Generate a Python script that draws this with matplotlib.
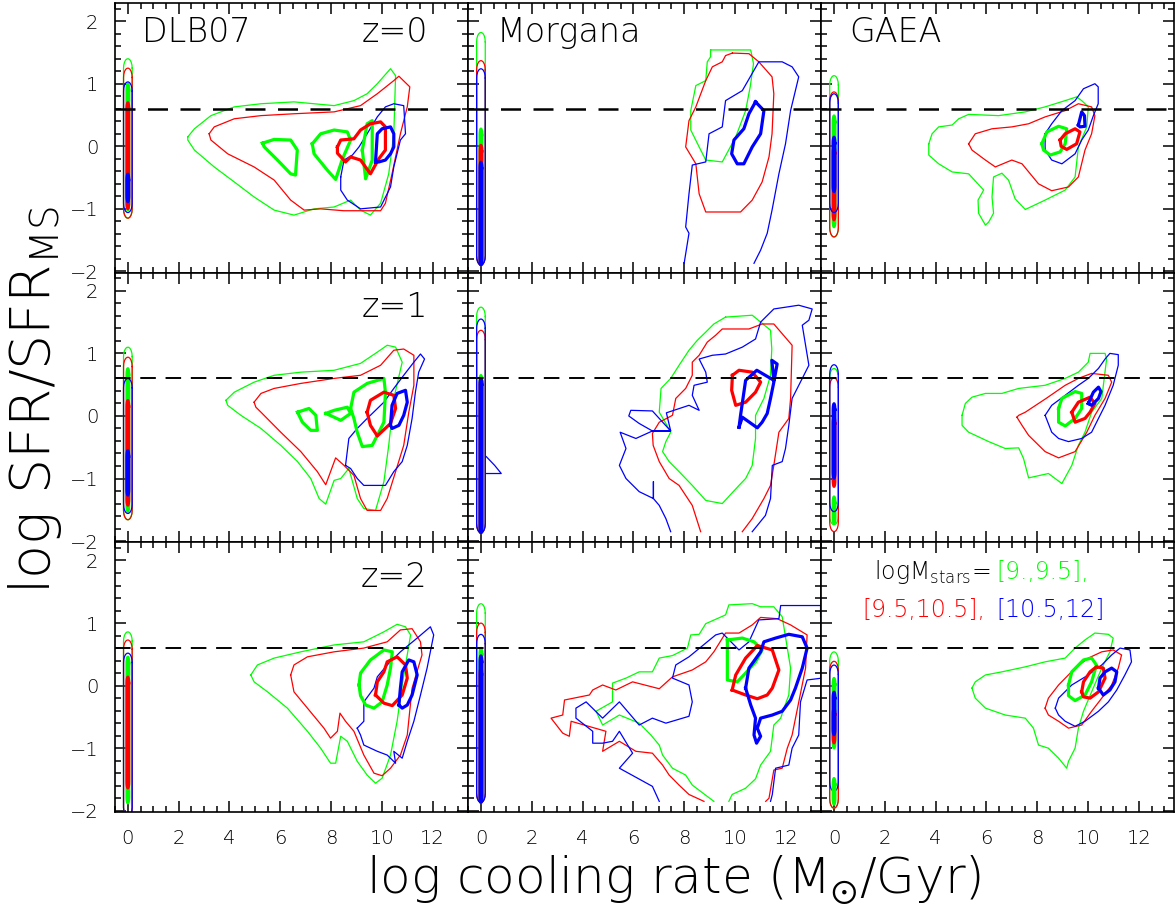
import numpy as np
import matplotlib
matplotlib.use('Agg')
import matplotlib.pyplot as plt
from matplotlib.ticker import MultipleLocator

plt.rcParams['font.family'] = ['DejaVu Sans']
plt.rcParams['font.weight'] = 'light'
plt.rcParams['mathtext.fontset'] = 'dejavusans'

GREEN = '#00ff00'
RED = '#ff0000'
BLUE = '#0000ff'
cols = [GREEN, RED, BLUE]

models = ['DLB07', 'Morgana', 'GAEA']
redshifts = ['z=0', 'z=1', 'z=2']
ms_line = 0.6

# vertical strips at log cooling rate = 0, order green/red/blue
thin_top = [[[1.40, 1.25, 1.03], [1.82, 1.37, 1.24], [1.13, 0.87, 0.84]],
            [[1.10, 0.94, 0.60], [1.74, 1.37, 1.55], [0.76, 0.61, 0.82]],
            [[0.86, 0.73, 0.52], [1.31, 1.00, 0.82], [0.54, 0.39, 0.33]]]
thin_bot = [[[-1.15, -1.15, -1.06], [-1.90, -1.90, -1.90], [-1.45, -1.45, -1.06]],
            [[-1.66, -1.66, -1.56], [-1.87, -1.87, -1.87], [-1.74, -1.85, -1.53]],
            [[-2.10, -2.10, -2.10], [-1.87, -1.87, -1.87], [-1.96, -1.96, -1.69]]]
thick_top = [[[1.00, 0.70, -0.44], [0.28, 0.02, -0.25], [0.49, -0.01, 0.15]],
             [[0.76, 0.25, -0.55], [0.65, 0.60, 0.60], [-1.29, -0.02, 0.20]],
             [[0.46, 0.14, None], [0.60, 0.28, 0.48], [0.12, -0.36, -0.10]]]
thick_bot = [[[-1.02, -1.00, -0.89], [-1.90, -1.90, -1.90], [-1.29, -1.18, -0.73]],
             [[-1.53, -1.43, -1.27], [-1.87, -1.87, -1.87], [-1.72, -1.13, -1.00]],
             [[-1.88, -1.64, None], [-1.87, -1.87, -1.87], [-1.00, -0.92, -0.79]]]
extra_strip = [(2, 2, 0, -1.48, -1.90)]

# ---- DLB07 z=0
dlb0_g = [(2.36, 0.15), (2.62, 0.28), (3.27, 0.49), (4.19, 0.63), (5.24, 0.68), (6.54, 0.71),
          (8.12, 0.65), (8.9, 0.73), (9.42, 0.84), (9.82, 1.0), (10.34, 1.24), (10.54, 1.13),
          (10.47, 0.2), (10.27, -0.44), (9.95, -0.91), (9.55, -1.1), (9.16, -1.02), (8.77, -0.86),
          (8.12, -0.97), (7.33, -1.0), (6.54, -1.1), (5.76, -1.02), (4.97, -0.81), (4.19, -0.57),
          (3.4, -0.33), (2.62, -0.06), (2.36, 0.1)]
dlb0_r = [(3.2, 0.2), (3.4, 0.31), (4.19, 0.44), (5.24, 0.49), (6.54, 0.52), (8.12, 0.55),
          (9.16, 0.65), (9.82, 0.84), (10.47, 1.05), (10.67, 1.12), (11.1, 0.95), (11.0, 0.63),
          (10.73, 0.2), (10.4, -0.44), (10.14, -0.91), (9.95, -1.03), (8.5, -1.03), (7.59, -1.0),
          (6.94, -1.02), (6.41, -0.86), (5.76, -0.54), (4.97, -0.33), (3.93, -0.12), (3.27, 0.1)]
dlb0_b = [(8.38, -0.49), (8.51, -0.22), (8.84, -0.14), (9.1, -0.01), (9.42, 0.2), (9.82, 0.47),
          (10.14, 0.63), (10.47, 0.68), (10.86, 0.65), (10.93, 0.2), (10.73, 0.1), (10.47, -0.33),
          (10.34, -0.65), (9.95, -0.97), (9.16, -1.0), (8.64, -0.86), (8.38, -0.7)]
dlb0_g_in1 = [(5.3, 0.05), (5.76, 0.11), (6.41, 0.1), (6.67, -0.06), (6.6, -0.46), (6.41, -0.44),
              (5.89, -0.22), (5.37, -0.01)]
dlb0_g_in2 = [(7.26, 0.04), (7.59, 0.2), (8.12, 0.26), (8.64, 0.23), (8.77, 0.1), (8.45, -0.2),
              (8.18, -0.53), (7.85, -0.38), (7.33, -0.12)]
dlb0_g_in3 = [(9.23, -0.06), (9.42, 0.36), (9.62, 0.41), (9.62, -0.22), (9.36, -0.52)]
dlb0_r_in = [(8.25, -0.01), (8.38, 0.1), (8.9, 0.12), (9.16, 0.26), (9.55, 0.36), (9.95, 0.39),
             (10.14, 0.31), (10.14, -0.06), (9.88, -0.2), (9.55, -0.44), (9.16, -0.22),
             (8.77, -0.17), (8.57, -0.25), (8.25, -0.11)]
dlb0_b_in = [(9.75, -0.25), (9.82, 0.2), (10.01, 0.28), (10.34, 0.31), (10.47, 0.2), (10.47, -0.01),
             (10.34, -0.12), (10.14, -0.22), (9.88, -0.25)]

# ---- Morgana z=0
mor0_g = [(9.04, 1.54), (10.62, 1.54), (10.73, 1.32), (10.6, 0.95), (10.42, 0.57), (10.03, 0.15),
          (9.5, -0.25), (8.85, -0.22), (8.59, -0.01), (8.26, 0.26), (8.26, 0.57), (8.46, 0.97),
          (8.85, 1.05), (8.91, 1.35), (9.04, 1.43)]
mor0_r = [(9.9, 1.49), (10.55, 1.48), (10.94, 1.35), (11.46, 1.11), (11.53, 0.84), (11.46, 0.2),
          (11.34, -0.17), (11.07, -0.57), (10.68, -0.86), (10.22, -1.05), (8.85, -1.05),
          (8.59, -0.76), (8.46, -0.28), (8.06, -0.01), (8.19, 0.41), (8.46, 0.63), (8.85, 1.05),
          (9.11, 1.27), (9.5, 1.35), (9.63, 1.45)]
mor0_b = [(8.0, -1.87), (8.19, -1.39), (8.06, -1.29), (8.19, -0.76), (8.32, -0.3), (8.85, -0.25),
          (8.98, 0.2), (9.5, 0.31), (9.63, 0.73), (10.29, 0.89), (10.94, 1.35), (11.86, 1.35),
          (12.25, 1.27), (12.51, 1.11), (12.19, 0.57), (11.99, 0.04), (11.73, -0.44),
          (11.46, -1.02), (11.27, -1.39), (11.01, -1.66), (10.75, -1.87)]
mor0_b_in = [(10.81, 0.71), (11.14, 0.57), (11.01, 0.2), (10.68, -0.01), (10.35, -0.28),
             (10.09, -0.28), (9.87, -0.12), (9.96, 0.1), (10.35, 0.28), (10.55, 0.52)]

# ---- GAEA z=0
gae0_g = [(3.73, 0.04), (3.86, 0.2), (4.12, 0.31), (4.65, 0.34), (4.91, 0.44), (5.3, 0.51),
          (6.48, 0.49), (7.53, 0.55), (8.31, 0.63), (9.1, 0.73), (9.55, 0.79), (9.75, 0.73),
          (10.01, 0.63), (9.95, 0.31), (9.62, -0.01), (9.49, -0.49), (9.1, -0.7), (8.31, -0.86),
          (7.53, -1.01), (7.13, -0.84), (6.87, -0.54), (6.61, -0.43), (6.28, -0.49), (6.22, -0.81),
          (6.28, -1.07), (6.09, -1.21), (5.96, -1.26), (5.69, -1.07), (5.67, -0.86), (5.89, -0.7),
          (5.3, -0.44), (4.65, -0.41), (4.12, -0.28), (3.73, -0.14)]
gae0_r = [(5.3, 0.04), (5.56, 0.2), (6.22, 0.28), (7.0, 0.31), (7.66, 0.36), (8.31, 0.47),
          (9.1, 0.57), (9.62, 0.68), (10.14, 0.63), (10.27, 0.49), (10.14, 0.2), (9.88, -0.06),
          (9.62, -0.49), (9.23, -0.65), (8.57, -0.71), (8.05, -0.6), (7.4, -0.28), (7.0, -0.22),
          (6.35, -0.33), (5.96, -0.22), (5.43, -0.06)]
gae0_b = [(8.31, 0.2), (8.57, 0.36), (8.97, 0.57), (9.49, 0.73), (9.82, 0.92), (10.27, 1.0),
          (10.4, 0.95), (10.4, 0.68), (10.21, 0.49), (10.01, 0.26), (9.75, 0.1), (9.49, -0.12),
          (8.97, -0.28), (8.57, -0.22), (8.31, -0.06)]
gae0_g_in = [(8.18, 0.04), (8.38, 0.23), (8.84, 0.32), (9.16, 0.28), (9.1, 0.04), (8.9, -0.09),
             (8.51, -0.14), (8.25, -0.06)]
gae0_r_in = [(8.9, 0.1), (9.1, 0.2), (9.49, 0.28), (9.68, 0.23), (9.55, 0.04), (9.16, -0.05),
             (8.94, 0.0)]
gae0_b_in = [(9.62, 0.34), (9.75, 0.55), (9.86, 0.49), (9.88, 0.32), (9.68, 0.31)]

# ---- DLB07 z=1
dlb1_g = [(3.86, 0.25), (4.19, 0.38), (4.97, 0.54), (5.76, 0.65), (6.81, 0.7), (8.12, 0.73),
          (9.16, 0.84), (9.82, 1.02), (10.21, 1.13), (10.54, 1.1), (10.8, 0.86), (10.47, 0.28),
          (10.27, -0.47), (10.08, -1.05), (9.75, -1.51), (9.29, -1.48), (9.03, -1.32),
          (8.7, -0.84), (8.38, -1.0), (8.12, -1.03), (7.79, -1.41), (7.53, -1.32), (7.2, -1.0),
          (6.68, -0.73), (6.02, -0.47), (5.24, -0.2), (4.45, 0.01), (3.93, 0.17)]
dlb1_r = [(4.97, 0.22), (5.24, 0.36), (5.76, 0.44), (6.81, 0.52), (8.12, 0.6), (9.16, 0.65),
          (9.95, 0.81), (10.47, 1.05), (10.86, 1.07), (11.26, 0.97), (11.26, 0.49), (11.06, 0.06),
          (10.86, -0.47), (10.54, -0.89), (10.21, -1.32), (9.95, -1.51), (9.42, -1.51),
          (9.16, -1.32), (8.9, -0.95), (8.51, -0.79), (8.18, -0.67), (7.98, -0.89), (7.79, -1.1),
          (7.46, -0.89), (6.81, -0.57), (6.02, -0.26), (5.24, 0.06), (5.04, 0.14)]
dlb1_b = [(8.57, -0.79), (8.7, -0.36), (9.03, -0.2), (9.42, -0.04), (10.08, 0.22), (10.47, 0.44),
          (10.86, 0.65), (11.26, 0.86), (11.52, 0.99), (11.68, 0.91), (11.45, 0.7), (11.32, 0.38),
          (11.19, -0.04), (11.0, -0.47), (10.8, -0.73), (10.47, -0.89), (10.14, -1.11),
          (9.69, -1.11), (9.29, -1.11), (9.03, -1.0), (8.77, -0.84)]
dlb1_g_in1 = [(6.68, 0.06), (7.13, 0.12), (7.4, 0.01), (7.46, -0.23), (7.2, -0.23), (6.87, -0.1)]
dlb1_g_in2 = [(7.79, 0.04), (8.12, 0.09), (8.64, 0.14), (8.77, 0.04), (8.38, -0.07), (8.12, -0.02)]
dlb1_g_in3 = [(8.77, 0.12), (8.9, 0.38), (9.42, 0.52), (10.08, 0.6), (10.14, 0.38), (10.08, -0.1),
              (9.82, -0.31), (9.62, -0.47), (9.23, -0.49), (9.03, -0.26), (8.9, -0.04)]
dlb1_r_in = [(9.42, 0.06), (9.55, 0.25), (10.08, 0.38), (10.47, 0.33), (10.54, 0.12),
             (10.34, -0.12), (9.82, -0.32), (9.55, -0.15)]
dlb1_b_in = [(10.34, -0.15), (10.4, 0.17), (10.6, 0.36), (10.93, 0.41), (11.0, 0.22),
             (10.86, 0.01), (10.67, -0.15), (10.4, -0.2)]

# ---- Morgana z=1
mor1_g = [(9.63, 1.58), (10.68, 1.61), (11.01, 1.5), (11.4, 1.37), (11.45, 1.07), (11.4, 0.65),
          (11.14, 0.28), (10.81, 0.01), (10.81, -0.36), (10.68, -0.79), (10.42, -1.0),
          (10.16, -1.11), (9.5, -1.4), (8.85, -1.35), (8.32, -1.11), (7.8, -0.89), (7.41, -0.73),
          (7.15, -0.57), (7.28, -0.41), (7.47, -0.26), (7.28, -0.12), (7.02, 0.06), (7.09, 0.44),
          (7.47, 0.6), (7.8, 0.81), (8.19, 1.05), (8.52, 1.21), (8.85, 1.34), (9.17, 1.47)]
mor1_r = [(8.65, -1.85), (8.32, -1.43), (7.8, -1.11), (7.41, -1.0), (7.02, -0.73), (6.78, -0.47),
          (6.75, -0.28), (7.02, -0.1), (7.54, 0.01), (7.67, 0.28), (8.06, 0.44), (8.32, 0.65),
          (8.32, 0.86), (8.59, 0.97), (8.91, 1.18), (9.24, 1.29), (9.5, 1.39), (10.55, 1.39),
          (11.07, 1.47), (11.53, 1.47), (12.25, 1.13), (12.19, 0.28), (12.12, -0.04),
          (11.73, -0.26), (11.53, -0.79), (11.4, -1.11), (11.14, -1.32), (10.68, -1.64),
          (10.29, -1.85)]
mor1_b = [(7.47, -1.85), (7.28, -1.64), (7.02, -1.43), (6.79, -1.32), (6.79, -1.05), (6.79, -1.32),
          (6.23, -1.21), (5.71, -1.0), (5.45, -0.79), (5.71, -0.52), (5.48, -0.26), (6.1, -0.36),
          (6.75, -0.24), (7.47, -0.24), (6.75, 0.08), (5.9, 0.09), (5.82, 0.0), (6.23, -0.12),
          (6.75, -0.24), (7.47, -0.24), (7.3, 0.05), (8.19, 0.17), (8.59, 0.09), (8.32, 0.33),
          (8.39, 0.49), (8.91, 0.54), (8.85, 0.7), (8.59, 0.91), (9.11, 0.97), (9.63, 0.99),
          (10.29, 1.1), (10.81, 1.23), (11.01, 1.5), (11.53, 1.71), (12.51, 1.77), (13.04, 1.71),
          (12.91, 1.53), (12.65, 1.45), (12.91, 0.81), (12.65, 0.6), (12.25, 0.28), (12.12, -0.15),
          (11.99, -0.52), (11.86, -0.73), (11.47, -0.79), (11.4, -1.32), (11.2, -1.59),
          (10.68, -1.85)]
mor1_b_spike = [(0.21, -0.65), (0.54, -0.79), (0.8, -0.92), (0.21, -0.92)]
mor1_r_in = [(9.9, 0.65), (10.16, 0.73), (10.68, 0.7), (11.01, 0.54), (10.81, 0.38), (10.42, 0.22),
             (10.03, 0.17), (9.87, 0.41)]
mor1_b_in = [(10.16, -0.18), (10.22, 0.01), (10.42, 0.57), (10.86, 0.73), (11.53, 0.57),
             (11.45, 0.89), (11.66, 0.83), (11.53, 0.54), (11.4, 0.28), (11.27, 0.04),
             (11.07, -0.1), (10.88, -0.19), (10.29, -0.02)]

# ---- GAEA z=1
gae1_g = [(5.04, 0.01), (5.17, 0.2), (5.43, 0.3), (5.96, 0.36), (6.61, 0.36), (7.27, 0.44),
          (8.31, 0.49), (9.1, 0.6), (9.62, 0.7), (10.01, 0.86), (10.08, 1.0), (10.67, 1.0),
          (10.73, 0.91), (10.54, 0.28), (10.14, 0.06), (9.88, -0.26), (9.62, -0.47), (9.36, -0.79),
          (8.97, -1.08), (8.44, -0.92), (7.66, -0.99), (7.46, -0.68), (7.27, -0.51), (6.74, -0.52),
          (6.09, -0.41), (5.3, -0.26), (5.04, -0.15)]
gae1_r = [(7.2, -0.02), (7.27, 0.01), (7.53, 0.06), (8.35, 0.28), (9.1, 0.49), (9.62, 0.6),
          (10.14, 0.68), (10.8, 0.65), (10.93, 0.54), (10.67, 0.28), (10.27, 0.01), (9.95, -0.26),
          (9.49, -0.57), (8.84, -0.67), (8.31, -0.57), (7.66, -0.31), (7.4, -0.15)]
gae1_b = [(8.31, 0.01), (8.57, 0.17), (9.1, 0.33), (9.62, 0.49), (10.01, 0.6), (10.41, 0.76),
          (10.67, 0.91), (10.86, 1.0), (11.19, 0.98), (11.19, 0.81), (10.99, 0.49), (10.67, 0.17),
          (10.41, -0.04), (10.14, -0.26), (9.75, -0.36), (9.23, -0.41), (8.84, -0.36), (8.57, -0.26)]
gae1_g_in = [(8.84, 0.12), (8.97, 0.28), (9.49, 0.39), (9.75, 0.36), (9.75, 0.12), (9.49, -0.04),
             (9.1, -0.16), (8.84, -0.1)]
gae1_r_in = [(9.36, 0.06), (9.62, 0.22), (10.08, 0.3), (10.27, 0.2), (10.08, 0.06), (9.88, -0.04),
             (9.49, -0.1)]
gae1_b_in = [(10.01, 0.2), (10.21, 0.38), (10.41, 0.46), (10.51, 0.39), (10.41, 0.28), (10.14, 0.17)]

# ---- DLB07 z=2
dlb2_g = [(4.84, 0.17), (5.1, 0.33), (5.76, 0.44), (6.81, 0.54), (8.12, 0.65), (9.29, 0.7),
          (10.08, 0.86), (10.6, 0.98), (10.93, 0.94), (11.13, 0.81), (10.8, 0.01), (10.6, -0.57),
          (10.34, -1.11), (10.01, -1.48), (9.75, -1.56), (9.42, -1.43), (9.03, -1.21),
          (8.64, -0.89), (8.38, -0.81), (8.18, -1.24), (7.98, -1.24), (7.59, -1.0), (7.07, -0.73),
          (6.28, -0.36), (5.5, -0.1), (4.97, 0.06)]
dlb2_r = [(6.41, 0.17), (6.54, 0.33), (7.07, 0.46), (8.12, 0.54), (9.29, 0.6), (10.21, 0.7),
          (10.73, 0.89), (11.19, 0.91), (11.52, 0.7), (11.58, 0.49), (11.19, -0.04), (11.0, -0.79),
          (10.73, -1.11), (10.34, -1.32), (10.01, -1.44), (9.69, -1.4), (9.29, -1.11),
          (8.9, -0.73), (8.57, -0.57), (8.35, -0.44), (8.25, -0.73), (7.98, -0.84), (7.72, -0.68),
          (7.07, -0.36), (6.54, -0.1)]
dlb2_b = [(9.03, -0.68), (9.29, -0.57), (9.29, -0.26), (9.69, -0.04), (9.82, 0.14), (10.21, 0.33),
          (10.73, 0.54), (11.39, 0.76), (11.91, 0.94), (12.04, 0.81), (11.78, 0.28), (11.52, -0.15),
          (11.26, -0.57), (11.0, -0.89), (10.8, -1.16), (10.47, -1.05), (10.54, -1.24),
          (10.21, -1.11), (9.82, -1.05), (9.29, -0.95), (9.16, -0.79)]
dlb2_g_in = [(9.1, 0.01), (9.16, 0.2), (9.55, 0.41), (10.08, 0.57), (10.41, 0.54), (10.34, 0.28),
             (10.21, 0.01), (10.01, -0.26), (9.69, -0.36), (9.36, -0.31), (9.16, -0.16)]
dlb2_r_in = [(9.75, -0.15), (9.82, 0.06), (10.08, 0.22), (10.21, 0.38), (10.6, 0.46), (10.93, 0.33),
             (11.0, 0.12), (10.8, -0.15), (10.41, -0.32), (10.08, -0.28)]
dlb2_b_in = [(10.67, -0.31), (10.73, -0.04), (10.8, 0.22), (11.06, 0.41), (11.26, 0.38),
             (11.39, 0.17), (11.19, -0.15), (11.0, -0.31), (10.8, -0.36)]

# ---- Morgana z=2
mor2_g = [(9.17, -1.85), (8.32, -1.59), (8.06, -1.43), (7.54, -1.32), (7.15, -1.11), (7.02, -0.95),
          (6.69, -0.79), (6.23, -0.6), (5.45, -0.47), (4.79, -0.63), (4.53, -0.41), (5.18, -0.26),
          (5.18, 0.04), (5.71, 0.12), (6.23, 0.22), (6.75, 0.22), (7.02, 0.44), (7.54, 0.48),
          (8.13, 0.6), (8.26, 0.81), (8.59, 0.82), (8.85, 0.99), (9.63, 1.13), (9.76, 1.29),
          (10.68, 1.31), (11.01, 1.26), (11.53, 1.26), (11.86, 1.1), (12.19, 0.28), (12.12, -0.15),
          (11.93, -0.36), (11.8, -0.52), (11.53, -0.63), (11.4, -1.05), (11.01, -1.27),
          (10.81, -1.49), (10.42, -1.64), (9.89, -1.74), (9.76, -1.85)]
mor2_r = [(8.78, -1.85), (8.19, -1.74), (7.8, -1.59), (7.41, -1.43), (7.15, -1.27), (6.75, -1.08),
          (6.1, -1.05), (5.45, -0.89), (4.79, -1.05), (4.92, -0.73), (3.55, -0.57), (3.48, -0.81),
          (3.22, -0.76), (2.76, -0.52), (3.22, -0.47), (3.29, -0.23), (4.27, -0.15), (4.4, -0.07),
          (4.79, 0.01), (5.31, -0.07), (5.97, 0.06), (7.02, -0.05), (7.54, 0.14), (8.32, 0.25),
          (8.85, 0.38), (9.17, 0.54), (9.63, 0.84), (10.16, 0.84), (10.68, 0.97), (11.01, 1.09),
          (11.66, 1.07), (12.19, 0.97), (12.84, 0.81), (12.78, 0.28), (12.25, -0.79),
          (12.06, -1.0), (11.86, -1.32), (11.53, -1.35), (11.34, -1.8), (11.21, -1.85)]
mor2_b = [(7.02, -1.85), (6.75, -1.61), (5.45, -1.32), (5.97, -1.08), (5.45, -0.73), (5.18, -0.89),
          (4.79, -0.92), (4.4, -0.92), (4.4, -0.73), (3.74, -0.52), (3.74, -0.36), (4.14, -0.26),
          (4.79, -0.52), (5.45, -0.26), (6.23, -0.63), (6.75, -0.52), (7.28, -0.6), (8.19, -0.49),
          (8.32, -0.26), (8.19, 0.01), (7.54, 0.12), (7.67, 0.33), (8.19, 0.46), (9.24, 0.81),
          (9.5, 0.84), (10.16, 0.57), (10.55, 0.7), (10.94, 1.05), (11.73, 1.07), (11.8, 1.28),
          (13.37, 1.28), (13.37, 1.1), (13.6, 1.1)]
mor2_b_low = [(13.6, 0.12), (13.43, 0.12), (12.84, 0.09), (12.58, -0.26), (12.51, -0.79),
              (12.25, -1.0), (12.12, -1.27), (11.6, -1.32), (11.47, -1.74), (11.4, -1.85)]
mor2_g_in = [(9.7, 0.73), (10.29, 0.76), (10.75, 0.7), (11.07, 0.57), (10.81, 0.38), (10.42, 0.2),
             (10.09, 0.06), (9.7, 0.09), (9.7, 0.35)]
mor2_r_in = [(9.89, -0.07), (10.03, 0.17), (10.42, 0.44), (10.88, 0.64), (11.47, 0.57),
             (11.73, 0.25), (11.47, -0.04), (11.27, -0.15), (10.88, -0.21), (10.42, -0.15)]
mor2_b_in = [(10.42, -0.04), (10.55, 0.28), (11.01, 0.54), (11.14, 0.7), (11.6, 0.76),
             (12.12, 0.82), (12.65, 0.78), (12.84, 0.6), (12.65, 0.28), (12.38, -0.04),
             (12.19, -0.23), (11.86, -0.41), (11.47, -0.47), (11.01, -0.52), (10.88, -0.68),
             (11.01, -0.81), (10.85, -0.92), (10.75, -0.79), (10.81, -0.52), (10.62, -0.31)]

# ---- GAEA z=2
gae2_g = [(5.43, -0.04), (5.56, 0.06), (5.96, 0.17), (6.61, 0.22), (7.53, 0.3), (8.31, 0.38),
          (9.1, 0.44), (9.49, 0.6), (9.88, 0.73), (10.27, 0.84), (10.8, 0.82), (10.99, 0.76),
          (10.86, 0.54), (10.54, 0.28), (10.14, -0.1), (9.82, -0.41), (9.62, -0.68), (9.49, -1.0),
          (9.23, -1.21), (9.16, -1.32), (8.84, -1.16), (8.44, -1.0), (8.05, -0.95), (7.85, -0.68),
          (7.53, -0.52), (6.74, -0.47), (5.96, -0.36), (5.56, -0.2)]
gae2_r = [(8.31, -0.36), (8.44, -0.2), (8.84, 0.01), (9.49, 0.28), (10.01, 0.44), (10.54, 0.54),
          (10.99, 0.57), (11.32, 0.49), (11.19, 0.28), (10.93, 0.01), (10.54, -0.2), (10.14, -0.41),
          (9.75, -0.63), (9.23, -0.68), (8.84, -0.57), (8.44, -0.47)]
gae2_b = [(8.71, -0.36), (8.84, -0.2), (9.36, 0.01), (10.01, 0.17), (10.54, 0.33), (10.93, 0.49),
          (11.26, 0.6), (11.65, 0.57), (11.71, 0.38), (11.45, 0.17), (11.13, -0.07), (10.8, -0.26),
          (10.41, -0.41), (9.88, -0.57), (9.49, -0.65), (9.1, -0.57), (8.84, -0.47)]
gae2_g_in = [(9.23, 0.01), (9.36, 0.22), (9.82, 0.41), (10.14, 0.44), (10.33, 0.33), (10.14, 0.06),
             (9.88, -0.15), (9.49, -0.24), (9.23, -0.16)]
gae2_r_in = [(9.75, -0.1), (9.82, 0.06), (10.08, 0.22), (10.33, 0.3), (10.6, 0.28), (10.67, 0.12),
             (10.41, -0.1), (10.08, -0.2), (9.82, -0.18)]
gae2_b_in = [(10.41, -0.04), (10.47, 0.12), (10.67, 0.22), (10.93, 0.28), (11.13, 0.22),
             (11.06, 0.06), (10.86, -0.07), (10.6, -0.15)]

# (row, col): list of (points, colour index, thick?, closed?)
panels = {
    (0, 0): [(dlb0_g, 0, 0, 1), (dlb0_r, 1, 0, 1), (dlb0_b, 2, 0, 1), (dlb0_g_in1, 0, 1, 1),
             (dlb0_g_in2, 0, 1, 1), (dlb0_g_in3, 0, 1, 1), (dlb0_r_in, 1, 1, 1), (dlb0_b_in, 2, 1, 1)],
    (0, 1): [(mor0_g, 0, 0, 1), (mor0_r, 1, 0, 1), (mor0_b, 2, 0, 0), (mor0_b_in, 2, 1, 1)],
    (0, 2): [(gae0_g, 0, 0, 1), (gae0_r, 1, 0, 1), (gae0_b, 2, 0, 1), (gae0_g_in, 0, 1, 1),
             (gae0_r_in, 1, 1, 1), (gae0_b_in, 2, 1, 1)],
    (1, 0): [(dlb1_g, 0, 0, 1), (dlb1_r, 1, 0, 1), (dlb1_b, 2, 0, 1), (dlb1_g_in1, 0, 1, 1),
             (dlb1_g_in2, 0, 1, 1), (dlb1_g_in3, 0, 1, 1), (dlb1_r_in, 1, 1, 1), (dlb1_b_in, 2, 1, 1)],
    (1, 1): [(mor1_g, 0, 0, 1), (mor1_r, 1, 0, 0), (mor1_b, 2, 0, 0), (mor1_b_spike, 2, 0, 0),
             (mor1_r_in, 1, 1, 1), (mor1_b_in, 2, 1, 1)],
    (1, 2): [(gae1_g, 0, 0, 1), (gae1_r, 1, 0, 1), (gae1_b, 2, 0, 1), (gae1_g_in, 0, 1, 1),
             (gae1_r_in, 1, 1, 1), (gae1_b_in, 2, 1, 1)],
    (2, 0): [(dlb2_g, 0, 0, 1), (dlb2_r, 1, 0, 1), (dlb2_b, 2, 0, 1), (dlb2_g_in, 0, 1, 1),
             (dlb2_r_in, 1, 1, 1), (dlb2_b_in, 2, 1, 1)],
    (2, 1): [(mor2_g, 0, 0, 0), (mor2_r, 1, 0, 0), (mor2_b, 2, 0, 0), (mor2_b_low, 2, 0, 0),
             (mor2_g_in, 0, 1, 1), (mor2_r_in, 1, 1, 1), (mor2_b_in, 2, 1, 1)],
    (2, 2): [(gae2_g, 0, 0, 1), (gae2_r, 1, 0, 1), (gae2_b, 2, 0, 1), (gae2_g_in, 0, 1, 1),
             (gae2_r_in, 1, 1, 1), (gae2_b_in, 2, 1, 1)],
}

LW_THIN = 0.9
LW_THICK = 2.3


def strip_outline(top, bot, hw, cap=0.15):
    # rounded vertical strip around log cooling rate = 0
    a = np.linspace(0, np.pi, 10)
    xs = list(hw * np.cos(a)) + list(-hw * np.cos(a))
    ys = list(top - cap + cap * np.sin(a)) + list(bot + cap - cap * np.sin(a))
    xs.append(xs[0])
    ys.append(ys[0])
    return xs, ys


fig, axes = plt.subplots(3, 3, figsize=(11.75, 9.14), dpi=100, sharex=True, sharey=True)
fig.subplots_adjust(left=0.098, right=0.9995, top=0.9967, bottom=0.1116, wspace=0, hspace=0)

for r in range(3):
    for c in range(3):
        ax = axes[r, c]
        ax.set_xlim(-0.5, 13.4)
        ax.set_ylim(-2.02, 2.29)
        ax.axhline(ms_line, color='black', lw=1.8 if r == 0 else 1.4, dashes=(8, 5), zorder=5)

        for k in range(3):
            xs, ys = strip_outline(thin_top[r][c][k], thin_bot[r][c][k], 0.17)
            ax.plot(xs, ys, color=cols[k], lw=LW_THIN)
            if thick_top[r][c][k] is not None:
                xs, ys = strip_outline(thick_top[r][c][k], thick_bot[r][c][k], 0.045, cap=0.1)
                ax.plot(xs, ys, color=cols[k], lw=1.9)
        for (rr, cc, k, t, b) in extra_strip:
            if rr == r and cc == c:
                xs, ys = strip_outline(t, b, 0.045, cap=0.1)
                ax.plot(xs, ys, color=cols[k], lw=1.9)

        for pts, k, thick, closed in panels[(r, c)]:
            xs = [p[0] for p in pts]
            ys = [p[1] for p in pts]
            if closed:
                xs.append(xs[0])
                ys.append(ys[0])
            ax.plot(xs, ys, color=cols[k], lw=LW_THICK if thick else LW_THIN)

        ax.xaxis.set_major_locator(MultipleLocator(2))
        ax.xaxis.set_minor_locator(MultipleLocator(0.5))
        ax.yaxis.set_major_locator(MultipleLocator(1))
        ax.yaxis.set_minor_locator(MultipleLocator(0.2))
        ax.tick_params(which='both', direction='in', top=True, right=True, width=1.1)
        ax.tick_params(which='major', length=8, labelsize=14, pad=12)
        ax.tick_params(which='minor', length=4)
        for s in ax.spines.values():
            s.set_linewidth(1.2)

for c in range(3):
    axes[0, c].text(0.075 if c == 0 else 0.08, 0.89, models[c], transform=axes[0, c].transAxes,
                    fontsize=24, ha='left', va='center')
for r in range(3):
    axes[r, 0].text(0.885, 0.89 if r == 0 else 0.87, redshifts[r], transform=axes[r, 0].transAxes,
                    fontsize=24, ha='right', va='center')

lax = axes[2, 2]
lax.text(0.15, 0.889, 'logM$_{\\rm stars}$=', transform=lax.transAxes, fontsize=17,
         color='black', ha='left', va='center')
lax.text(0.496, 0.889, '[9.,9.5],', transform=lax.transAxes, fontsize=17, color=GREEN,
         ha='left', va='center')
lax.text(0.116, 0.748, '[9.5,10.5],', transform=lax.transAxes, fontsize=17, color=RED,
         ha='left', va='center')
lax.text(0.496, 0.748, '[10.5,12]', transform=lax.transAxes, fontsize=17, color=BLUE,
         ha='left', va='center')

fig.text(0.03, 0.562, 'log SFR/SFR$_{\\rm MS}$', rotation=90, fontsize=40, ha='center', va='center')
fig.text(0.573, 0.037, 'log cooling rate (M$_{\\odot}$/Gyr)', fontsize=36, ha='center', va='center')

fig.savefig('out.png', dpi=100)
